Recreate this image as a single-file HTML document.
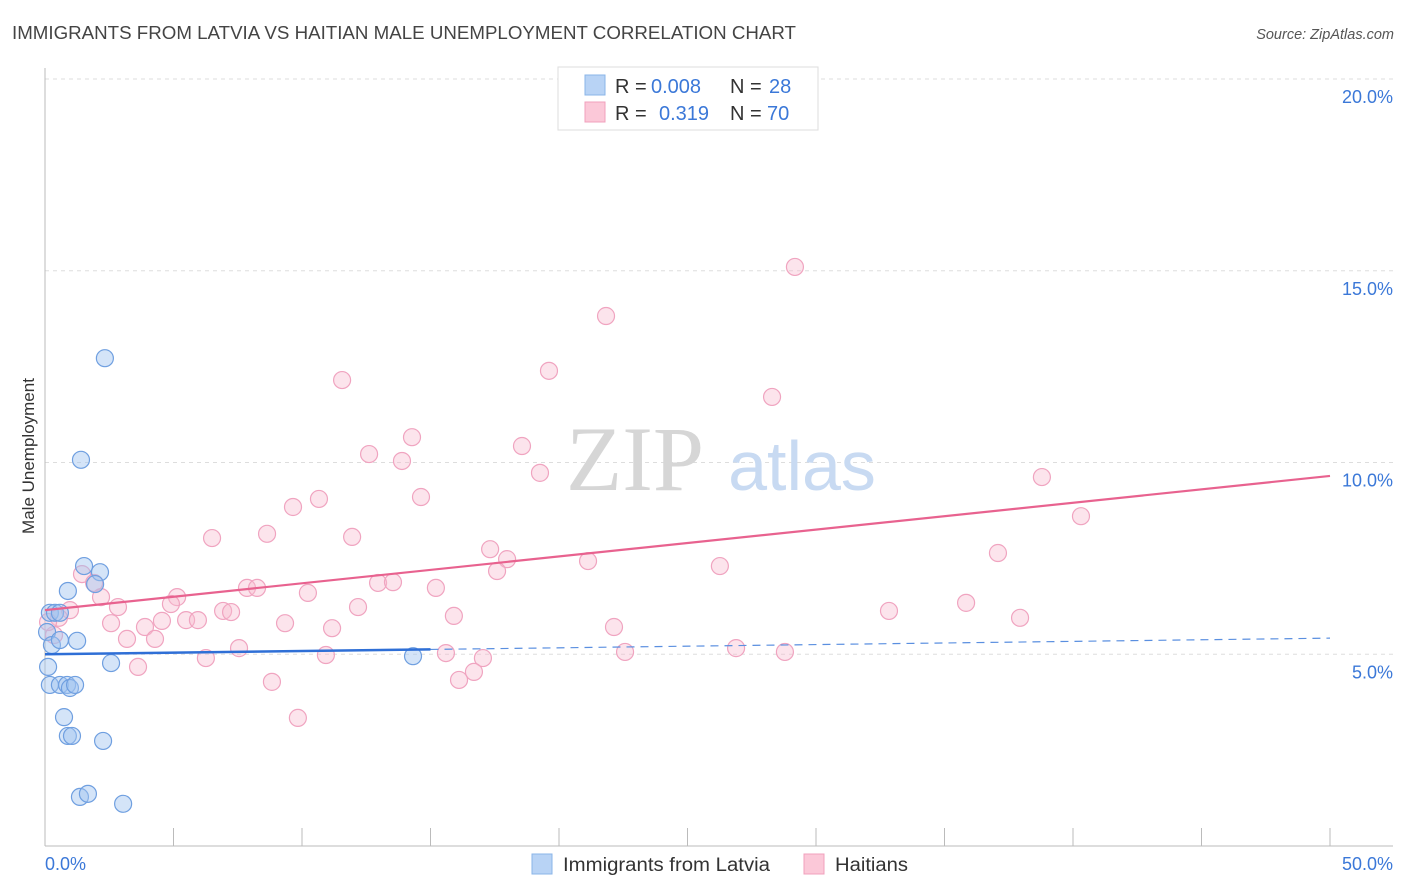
<!DOCTYPE html>
<html><head><meta charset="utf-8"><style>
body{margin:0;background:#fff;font-family:"Liberation Sans",sans-serif}
svg{display:block}
</style></head><body>
<svg id="chart" width="1406" height="892">
<text x="12" y="39" font-size="18" fill="#444" textLength="784" lengthAdjust="spacingAndGlyphs">IMMIGRANTS FROM LATVIA VS HAITIAN MALE UNEMPLOYMENT CORRELATION CHART</text>
<text x="1394" y="39" font-size="14.5" fill="#555" font-style="italic" text-anchor="end">Source: ZipAtlas.com</text>
<g id="grid"></g>
<g><text x="635" y="490" font-family="Liberation Serif,serif" font-size="92" fill="#d6d6d6" text-anchor="middle">ZIP</text><text x="802" y="490" font-size="70" fill="#c8daf2" text-anchor="middle">atlas</text></g>
<line x1="45" y1="68" x2="45" y2="846" stroke="#bbb"/>
<line x1="45" y1="846" x2="1393" y2="846" stroke="#bbb"/>
<g id="xt"></g>
<g id="yl"></g>
<text x="45" y="870" font-size="18" fill="#3b78d8">0.0%</text>
<text x="1393" y="870" font-size="18" fill="#3b78d8" text-anchor="end">50.0%</text>
<text transform="translate(34,456) rotate(-90)" font-size="17" fill="#333" text-anchor="middle">Male Unemployment</text>
<g id="pink"></g>
<g id="blue"></g>
<g id="trend"></g>
<g>
<rect x="558" y="67" width="260" height="63" fill="#fff" stroke="#ddd"/>
<rect x="585" y="75" width="20" height="20" fill="#b8d3f5" stroke="#8ab4e8"/>
<rect x="585" y="102" width="20" height="20" fill="#fbc8d8" stroke="#f0a0bc"/>
<text x="615" y="93" font-size="20" fill="#333">R = <tspan x="651" fill="#3b78d8">0.008</tspan><tspan x="730">N = </tspan><tspan x="769" fill="#3b78d8">28</tspan></text>
<text x="615" y="120" font-size="20" fill="#333">R = <tspan x="659" fill="#3b78d8">0.319</tspan><tspan x="730">N = </tspan><tspan x="767" fill="#3b78d8">70</tspan></text>
</g>
<g>
<rect x="532" y="854" width="20" height="20" fill="#b8d3f5" stroke="#8ab4e8"/>
<text x="563" y="871" font-size="19" fill="#333" textLength="207" lengthAdjust="spacingAndGlyphs">Immigrants from Latvia</text>
<rect x="804" y="854" width="20" height="20" fill="#fbc8d8" stroke="#f0a0bc"/>
<text x="835" y="871" font-size="19" fill="#333" textLength="73" lengthAdjust="spacingAndGlyphs">Haitians</text>
</g>
</svg>
<script>
const blueX=[0.19,0.39,0.58,0.08,0.27,0.58,0.12,0.19,0.58,0.86,0.97,1.17,0.74,0.89,1.05,2.26,1.36,1.67,3.04,0.89,1.52,2.14,1.95,1.25,2.57,1.40,2.33,14.32];
const blueY=[6.08,6.08,6.08,5.58,5.24,5.37,4.67,4.20,4.20,4.20,4.12,4.20,3.36,2.87,2.87,2.74,1.28,1.36,1.10,6.65,7.30,7.14,6.83,5.35,4.77,10.07,12.72,4.95];
const pinkX=[29.18,21.83,11.56,19.61,28.29,14.28,12.61,13.89,18.56,19.26,38.79,9.65,10.66,14.63,40.31,6.50,8.64,11.95,17.32,17.98,21.13,26.26,37.08,17.59,1.44,1.91,5.14,7.86,8.25,12.96,13.54,15.21,10.23,2.18,0.97,2.84,4.90,6.93,7.24,12.18,15.91,32.84,35.84,37.94,0.54,2.57,3.89,4.55,5.49,5.95,9.34,11.17,22.14,0.35,3.19,4.28,7.55,10.93,15.60,22.57,26.89,28.79,6.26,3.62,17.04,16.69,16.11,8.83,9.84,0.12];
const pinkY=[15.10,13.82,12.15,12.39,11.71,10.66,10.22,10.04,10.43,9.73,9.62,8.84,9.05,9.10,8.60,8.03,8.14,8.06,7.74,7.48,7.43,7.30,7.64,7.17,7.09,6.86,6.49,6.73,6.73,6.86,6.88,6.73,6.60,6.49,6.15,6.23,6.31,6.13,6.10,6.23,6.00,6.13,6.34,5.95,5.95,5.81,5.71,5.87,5.89,5.89,5.81,5.68,5.71,5.50,5.40,5.40,5.16,4.98,5.03,5.06,5.16,5.06,4.90,4.67,4.90,4.54,4.33,4.28,3.34,5.84];
const yTicks=[5,10,15,20];
const yTickLabels=["5.0%","10.0%","15.0%","20.0%"];
const xTicks=[5,10,15,20,25,30,35,40,45,50];
const blueTrend=[5.0,5.42];
const pinkTrend=[6.15,9.65];
const blueSolidEnd=15;
const NS="http://www.w3.org/2000/svg";
const sx=v=>45+v*25.7, sy=v=>846-v*38.35;
function mk(tag,attrs,parent){const e=document.createElementNS(NS,tag);for(const k in attrs)e.setAttribute(k,attrs[k]);parent.appendChild(e);return e;}
const grid=document.getElementById('grid'),yl=document.getElementById('yl'),xt=document.getElementById('xt');
yTicks.forEach((t,i)=>{
 const l=mk('line',{x1:45,x2:1393,y1:sy(t),y2:sy(t),stroke:'#ddd','stroke-dasharray':'4,4'},grid);
 
 
 const tx=mk('text',{x:1393,y:sy(t)+24,'font-size':18,fill:'#3b78d8','text-anchor':'end'},yl);
 tx.textContent=yTickLabels[i];
 
 
});
xTicks.forEach(t=>{
 const l=mk('line',{x1:sx(t),x2:sx(t),y1:828,y2:846,stroke:'#bbb'},xt);
 
 
});
const pg=document.getElementById('pink');
pinkX.forEach((x,i)=>{
 const c=mk('circle',{cx:sx(x),cy:sy(pinkY[i]),r:8.5,fill:'rgba(248,187,208,0.4)',stroke:'#f0a4c0','stroke-width':1.2},pg);
 
 
});
const bg=document.getElementById('blue');
blueX.forEach((x,i)=>{
 const c=mk('circle',{cx:sx(x),cy:sy(blueY[i]),r:8.5,fill:'rgba(160,196,240,0.45)',stroke:'#6f9fe0','stroke-width':1.2},bg);
 
 
});
const tg=document.getElementById('trend');
const bAt=x=>blueTrend[0]+(blueTrend[1]-blueTrend[0])*x/50;
let l1=mk('line',{x1:sx(0),y1:sy(bAt(0)),x2:sx(blueSolidEnd),y2:sy(bAt(blueSolidEnd)),stroke:'#2f6fd6','stroke-width':2.5},tg);


let l2=mk('line',{x1:sx(blueSolidEnd),y1:sy(bAt(blueSolidEnd)),x2:sx(50),y2:sy(bAt(50)),stroke:'#5a8fe0','stroke-width':1.2,'stroke-dasharray':'8,6'},tg);


let l3=mk('line',{x1:sx(0),y1:sy(pinkTrend[0]),x2:sx(50),y2:sy(pinkTrend[1]),stroke:'#e8628f','stroke-width':2.2},tg);


</script>
</body></html>
